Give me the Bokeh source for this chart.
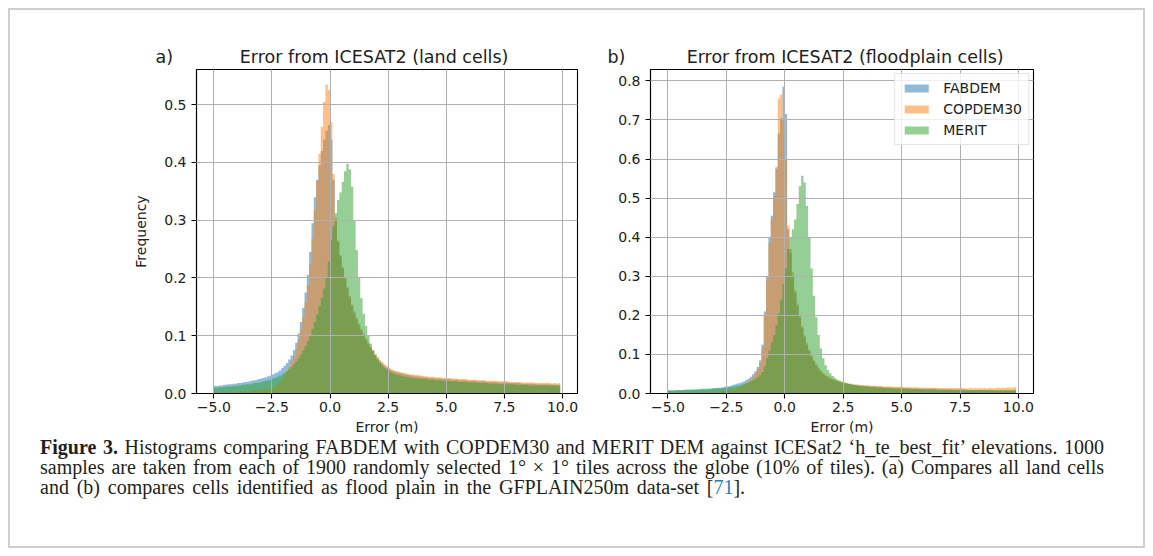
from bokeh.plotting import figure
from bokeh.models import Range1d, FixedTicker, Div, InlineStyleSheet
from bokeh.layouts import column, row
from bokeh.embed import file_html
from bokeh.resources import INLINE

# ---------------- data ----------------
BIN_START = -5.0
BIN_WIDTH = 0.1
SERIES = ["FABDEM", "COPDEM30", "MERIT"]
COLORS = ["#1f77b4", "#ff7f0e", "#2ca02c"]

X_TICKS = [-5.0, -2.5, 0.0, 2.5, 5.0, 7.5, 10.0]
X_TICK_LABELS = ["\u22125.0", "\u22122.5", "0.0", "2.5", "5.0", "7.5", "10.0"]
Y_TICKS_LAND = [0.0, 0.1, 0.2, 0.3, 0.4, 0.5]
Y_TICK_LABELS_LAND = ["0.0", "0.1", "0.2", "0.3", "0.4", "0.5"]
Y_TICKS_FLOOD = [0.0, 0.1, 0.2, 0.3, 0.4, 0.5, 0.6, 0.7, 0.8]
Y_TICK_LABELS_FLOOD = ["0.0", "0.1", "0.2", "0.3", "0.4", "0.5", "0.6", "0.7", "0.8"]

# panel a) land cells  (149 bins of 0.1 m from -5.0 to 9.9)
fabdem_land = [
    0.013, 0.013, 0.014, 0.014, 0.015, 0.015, 0.016, 0.016, 0.017, 0.017,
    0.018, 0.018, 0.019, 0.020, 0.020, 0.021, 0.022, 0.023, 0.024, 0.025,
    0.026, 0.027, 0.028, 0.030, 0.031, 0.033, 0.035, 0.037, 0.040, 0.044,
    0.048, 0.053, 0.059, 0.066, 0.075, 0.088, 0.104, 0.124, 0.148, 0.175,
    0.205, 0.245, 0.295, 0.340, 0.370, 0.395, 0.420, 0.440, 0.455, 0.465,
    0.440, 0.370, 0.300, 0.262, 0.237, 0.216, 0.199, 0.182, 0.166, 0.151,
    0.139, 0.128, 0.118, 0.109, 0.101, 0.093, 0.086, 0.079, 0.073, 0.067,
    0.061, 0.056, 0.052, 0.048, 0.045, 0.042, 0.040, 0.038, 0.037, 0.036,
    0.035, 0.034, 0.033, 0.032, 0.031, 0.031, 0.030, 0.030, 0.029, 0.029,
    0.028, 0.028, 0.027, 0.027, 0.027, 0.026, 0.026, 0.026, 0.025, 0.025,
    0.025, 0.025, 0.024, 0.024, 0.024, 0.023, 0.023, 0.023, 0.023, 0.022,
    0.022, 0.022, 0.022, 0.021, 0.021, 0.021, 0.021, 0.020, 0.020, 0.020,
    0.020, 0.020, 0.019, 0.019, 0.019, 0.019, 0.019, 0.018, 0.018, 0.018,
    0.018, 0.018, 0.017, 0.017, 0.017, 0.017, 0.017, 0.017, 0.016, 0.016,
    0.016, 0.016, 0.016, 0.016, 0.016, 0.015, 0.015, 0.015, 0.015,
]
copdem30_land = [
    0.002, 0.002, 0.002, 0.002, 0.002, 0.003, 0.003, 0.003, 0.003, 0.003,
    0.003, 0.003, 0.004, 0.004, 0.004, 0.004, 0.005, 0.005, 0.005, 0.006,
    0.006, 0.007, 0.007, 0.008, 0.009, 0.011, 0.013, 0.016, 0.020, 0.025,
    0.031, 0.038, 0.046, 0.055, 0.065, 0.077, 0.092, 0.110, 0.132, 0.158,
    0.188, 0.225, 0.268, 0.318, 0.368, 0.415, 0.462, 0.505, 0.535, 0.525,
    0.470, 0.380, 0.305, 0.265, 0.240, 0.219, 0.202, 0.185, 0.169, 0.154,
    0.142, 0.131, 0.121, 0.112, 0.104, 0.096, 0.088, 0.081, 0.075, 0.069,
    0.063, 0.058, 0.054, 0.050, 0.047, 0.044, 0.042, 0.040, 0.039, 0.038,
    0.037, 0.036, 0.035, 0.034, 0.033, 0.033, 0.032, 0.032, 0.031, 0.031,
    0.030, 0.030, 0.029, 0.029, 0.029, 0.028, 0.028, 0.028, 0.027, 0.027,
    0.027, 0.027, 0.026, 0.026, 0.026, 0.025, 0.025, 0.025, 0.025, 0.024,
    0.024, 0.024, 0.024, 0.023, 0.023, 0.023, 0.023, 0.022, 0.022, 0.022,
    0.022, 0.022, 0.021, 0.021, 0.021, 0.021, 0.021, 0.020, 0.020, 0.020,
    0.020, 0.020, 0.019, 0.019, 0.019, 0.019, 0.019, 0.019, 0.018, 0.018,
    0.018, 0.018, 0.018, 0.018, 0.018, 0.017, 0.018, 0.017, 0.018,
]
merit_land = [
    0.010, 0.010, 0.011, 0.011, 0.011, 0.012, 0.012, 0.012, 0.013, 0.013,
    0.014, 0.014, 0.015, 0.015, 0.016, 0.016, 0.017, 0.018, 0.018, 0.019,
    0.020, 0.021, 0.022, 0.023, 0.024, 0.026, 0.027, 0.029, 0.031, 0.033,
    0.036, 0.039, 0.042, 0.046, 0.050, 0.055, 0.061, 0.067, 0.074, 0.082,
    0.091, 0.101, 0.112, 0.124, 0.137, 0.151, 0.166, 0.182, 0.200, 0.228,
    0.265, 0.290, 0.312, 0.335, 0.348, 0.366, 0.385, 0.398, 0.388, 0.358,
    0.300, 0.248, 0.200, 0.165, 0.138, 0.117, 0.100, 0.086, 0.075, 0.066,
    0.059, 0.053, 0.048, 0.044, 0.041, 0.038, 0.036, 0.034, 0.033, 0.032,
    0.031, 0.030, 0.029, 0.029, 0.028, 0.027, 0.027, 0.026, 0.026, 0.025,
    0.025, 0.025, 0.024, 0.024, 0.024, 0.023, 0.023, 0.023, 0.022, 0.022,
    0.022, 0.021, 0.021, 0.021, 0.021, 0.020, 0.020, 0.020, 0.020, 0.019,
    0.019, 0.019, 0.019, 0.018, 0.018, 0.018, 0.018, 0.018, 0.017, 0.017,
    0.017, 0.017, 0.017, 0.016, 0.016, 0.016, 0.016, 0.016, 0.016, 0.015,
    0.015, 0.015, 0.015, 0.015, 0.015, 0.014, 0.014, 0.014, 0.014, 0.014,
    0.014, 0.014, 0.014, 0.014, 0.014, 0.014, 0.014, 0.013, 0.013,
]

# panel b) floodplain cells
fabdem_flood = [
    0.008, 0.008, 0.008, 0.009, 0.009, 0.009, 0.009, 0.010, 0.010, 0.010,
    0.010, 0.011, 0.011, 0.011, 0.012, 0.012, 0.012, 0.013, 0.013, 0.014,
    0.014, 0.015, 0.015, 0.016, 0.017, 0.018, 0.019, 0.021, 0.023, 0.025,
    0.026, 0.028, 0.031, 0.034, 0.038, 0.043, 0.049, 0.057, 0.068, 0.085,
    0.125, 0.210, 0.300, 0.400, 0.455, 0.515, 0.575, 0.665, 0.705, 0.785,
    0.715, 0.420, 0.360, 0.300, 0.258, 0.224, 0.194, 0.168, 0.145, 0.125,
    0.108, 0.094, 0.082, 0.072, 0.063, 0.056, 0.050, 0.045, 0.041, 0.038,
    0.035, 0.033, 0.031, 0.029, 0.027, 0.026, 0.025, 0.024, 0.023, 0.022,
    0.021, 0.021, 0.020, 0.020, 0.019, 0.019, 0.018, 0.018, 0.018, 0.017,
    0.017, 0.017, 0.016, 0.016, 0.016, 0.016, 0.015, 0.015, 0.015, 0.015,
    0.014, 0.014, 0.014, 0.014, 0.013, 0.013, 0.013, 0.013, 0.013, 0.012,
    0.012, 0.012, 0.012, 0.012, 0.012, 0.011, 0.011, 0.011, 0.011, 0.011,
    0.011, 0.010, 0.010, 0.010, 0.010, 0.010, 0.010, 0.010, 0.009, 0.009,
    0.009, 0.009, 0.009, 0.009, 0.009, 0.009, 0.009, 0.008, 0.008, 0.008,
    0.008, 0.008, 0.008, 0.008, 0.008, 0.008, 0.008, 0.008, 0.008,
]
copdem30_flood = [
    0.002, 0.002, 0.002, 0.002, 0.002, 0.002, 0.002, 0.002, 0.002, 0.002,
    0.002, 0.003, 0.003, 0.003, 0.003, 0.003, 0.003, 0.004, 0.004, 0.004,
    0.004, 0.005, 0.005, 0.006, 0.006, 0.007, 0.008, 0.009, 0.011, 0.013,
    0.015, 0.018, 0.021, 0.025, 0.030, 0.036, 0.043, 0.052, 0.063, 0.078,
    0.115, 0.200, 0.290, 0.385, 0.445, 0.505, 0.580, 0.755, 0.765, 0.700,
    0.600, 0.430, 0.370, 0.310, 0.265, 0.230, 0.200, 0.173, 0.149, 0.129,
    0.112, 0.097, 0.085, 0.075, 0.066, 0.059, 0.053, 0.048, 0.044, 0.041,
    0.038, 0.035, 0.033, 0.031, 0.030, 0.028, 0.027, 0.026, 0.025, 0.024,
    0.023, 0.023, 0.022, 0.022, 0.021, 0.021, 0.020, 0.020, 0.020, 0.019,
    0.019, 0.019, 0.018, 0.018, 0.018, 0.018, 0.017, 0.017, 0.017, 0.017,
    0.017, 0.016, 0.016, 0.016, 0.016, 0.016, 0.016, 0.015, 0.015, 0.015,
    0.015, 0.015, 0.015, 0.015, 0.015, 0.014, 0.014, 0.014, 0.014, 0.014,
    0.014, 0.014, 0.014, 0.014, 0.014, 0.014, 0.014, 0.013, 0.013, 0.014,
    0.013, 0.014, 0.013, 0.014, 0.013, 0.014, 0.013, 0.014, 0.014, 0.013,
    0.014, 0.015, 0.014, 0.015, 0.014, 0.016, 0.014, 0.015, 0.016,
]
merit_flood = [
    0.007, 0.007, 0.007, 0.007, 0.008, 0.008, 0.008, 0.008, 0.008, 0.009,
    0.009, 0.009, 0.009, 0.010, 0.010, 0.010, 0.011, 0.011, 0.011, 0.012,
    0.012, 0.013, 0.013, 0.014, 0.015, 0.015, 0.016, 0.017, 0.018, 0.019,
    0.020, 0.022, 0.024, 0.026, 0.028, 0.031, 0.034, 0.038, 0.042, 0.047,
    0.055, 0.070, 0.090, 0.110, 0.130, 0.150, 0.175, 0.205, 0.240, 0.280,
    0.320, 0.370, 0.400, 0.420, 0.445, 0.485, 0.530, 0.557, 0.540, 0.480,
    0.400, 0.320, 0.250, 0.195, 0.150, 0.115, 0.090, 0.072, 0.060, 0.052,
    0.045, 0.040, 0.036, 0.033, 0.030, 0.028, 0.026, 0.024, 0.023, 0.022,
    0.021, 0.020, 0.019, 0.018, 0.018, 0.017, 0.017, 0.016, 0.016, 0.015,
    0.015, 0.015, 0.014, 0.014, 0.014, 0.013, 0.013, 0.013, 0.013, 0.012,
    0.012, 0.012, 0.012, 0.011, 0.011, 0.011, 0.011, 0.011, 0.010, 0.010,
    0.010, 0.010, 0.010, 0.010, 0.010, 0.009, 0.009, 0.009, 0.009, 0.009,
    0.009, 0.009, 0.009, 0.009, 0.009, 0.008, 0.008, 0.008, 0.008, 0.008,
    0.008, 0.008, 0.008, 0.008, 0.008, 0.008, 0.008, 0.008, 0.008, 0.007,
    0.008, 0.007, 0.008, 0.007, 0.008, 0.007, 0.008, 0.007, 0.008,
]

TITLE_A = "Error from ICESAT2 (land cells)"
TITLE_B = "Error from ICESAT2 (floodplain cells)"
LETTER_A = "a)"
LETTER_B = "b)"
X_LABEL = "Error (m)"
Y_LABEL = "Frequency"

CAPTION_BOLD = "Figure 3."
CAPTION_L1 = " Histograms comparing FABDEM with COPDEM30 and MERIT DEM against ICESat2 \u2018h_te_best_fit\u2019 elevations. 1000"
CAPTION_L2 = "samples are taken from each of 1900 randomly selected 1\u00b0 \u00d7 1\u00b0 tiles across the globe (10% of tiles). (a) Compares all land cells"
CAPTION_L3A = "and (b) compares cells identified as flood plain in the GFPLAIN250m data-set ["
CAPTION_REF = "71"
CAPTION_L3B = "]."

# ---------------- helpers ----------------
FONT = "DejaVu Sans"
XMIN, XMAX = -5.745, 10.645
FRAME_H = 324
TOP = 69


def step_xy(values):
    n = len(values)
    xs = [round(BIN_START + BIN_WIDTH * i, 2) for i in range(n + 1)]
    ys = list(values) + [values[-1]]
    return xs, ys


def panel(series_values, ymax, yticks, yticklabels, frame_w, left, right,
          letter, letter_px, gap, title, ylabel, legend):
    head = letter + "\u00a0" * gap + title
    p = figure(frame_width=frame_w, frame_height=FRAME_H,
               min_border_left=left, min_border_right=right,
               min_border_top=TOP, min_border_bottom=47,
               x_range=Range1d(XMIN, XMAX), y_range=Range1d(0, ymax),
               title=head, output_backend="svg", toolbar_location=None)
    p.background_fill_color = None
    p.border_fill_color = None
    p.outline_line_color = "black"
    p.outline_line_width = 1.1

    p.title.align = "left"
    p.title.offset = -letter_px
    p.title.standoff = 5
    p.title.text_font = FONT
    p.title.text_font_size = "17.5px"
    p.title.text_font_style = "normal"
    p.title.text_color = "#222222"

    for name, vals, col in zip(SERIES, series_values, COLORS):
        xs, ys = step_xy(vals)
        kw = dict(legend_label=name) if legend else {}
        p.varea_step(x=xs, y1=[0] * len(xs), y2=ys, step_mode="after",
                     fill_color=col, fill_alpha=0.5, **kw)

    p.xaxis.ticker = FixedTicker(ticks=X_TICKS)
    p.xaxis.major_label_overrides = dict(zip(X_TICKS, X_TICK_LABELS))
    p.yaxis.ticker = FixedTicker(ticks=yticks)
    p.yaxis.major_label_overrides = dict(zip(yticks, yticklabels))
    for ax in (p.xaxis[0], p.yaxis[0]):
        ax.axis_line_color = "black"
        ax.axis_line_width = 1.1
        ax.major_tick_line_color = "black"
        ax.major_tick_line_width = 1.1
        ax.major_tick_out = 5
        ax.major_tick_in = 0
        ax.minor_tick_line_color = None
        ax.major_label_text_font = FONT
        ax.major_label_text_font_size = "14px"
        ax.major_label_text_color = "#222222"
        ax.axis_label_text_font = FONT
        ax.axis_label_text_font_size = "14px"
        ax.axis_label_text_font_style = "normal"
        ax.axis_label_text_color = "#222222"
    p.xaxis.major_label_standoff = 3
    p.yaxis.major_label_standoff = 5
    p.xaxis.axis_label = X_LABEL
    p.xaxis.axis_label_standoff = 4
    if ylabel:
        p.yaxis.axis_label = ylabel
        p.yaxis.axis_label_standoff = 12

    p.grid.grid_line_color = "#b0b0b0"
    p.grid.grid_line_width = 1
    p.grid.level = "guide"

    if legend:
        lg = p.legend[0]
        lg.location = "top_right"
        lg.margin = 4
        lg.padding = 6
        lg.spacing = 5
        lg.glyph_width = 30
        lg.glyph_height = 10
        lg.label_height = 14
        lg.label_standoff = 12
        lg.label_text_font = FONT
        lg.label_text_font_size = "14px"
        lg.label_text_color = "#222222"
        lg.border_line_color = "#cccccc"
        lg.border_line_width = 1
        lg.background_fill_color = "white"
        lg.background_fill_alpha = 0.8
    return p


pa = panel([fabdem_land, copdem30_land, merit_land], 0.561,
           Y_TICKS_LAND, Y_TICK_LABELS_LAND, 381, 196, 23,
           LETTER_A, 41, 12, TITLE_A, Y_LABEL, False)
pb = panel([fabdem_flood, copdem30_flood, merit_flood], 0.829,
           Y_TICKS_FLOOD, Y_TICK_LABELS_FLOOD, 383, 50, 120,
           LETTER_B, 43, 11, TITLE_B, None, True)

line_style = "text-align:justify;text-align-last:justify;white-space:nowrap;"
html = (
    '<div style="font-family:\'Liberation Serif\',serif;font-size:20px;line-height:20px;'
    'color:#231f20;width:1064px;margin-left:40px;margin-top:-3px;">'
    f'<div style="{line_style}"><b>{CAPTION_BOLD}</b>{CAPTION_L1}</div>'
    f'<div style="{line_style}">{CAPTION_L2}</div>'
    f'<div style="white-space:nowrap;word-spacing:2.8px;">{CAPTION_L3A}<span style="color:#2b7bbd">{CAPTION_REF}</span>{CAPTION_L3B}</div>'
    '</div>'
)
cap = Div(text=html, width=1153, height=116, margin=0)

top = row(pa, pb, spacing=0)
layout = column(top, cap, spacing=0,
                stylesheets=[InlineStyleSheet(css=":host { outline: 2px solid #cfcfcf; outline-offset: -10px; }")])

open("out.html", "w").write(file_html(layout, INLINE))
